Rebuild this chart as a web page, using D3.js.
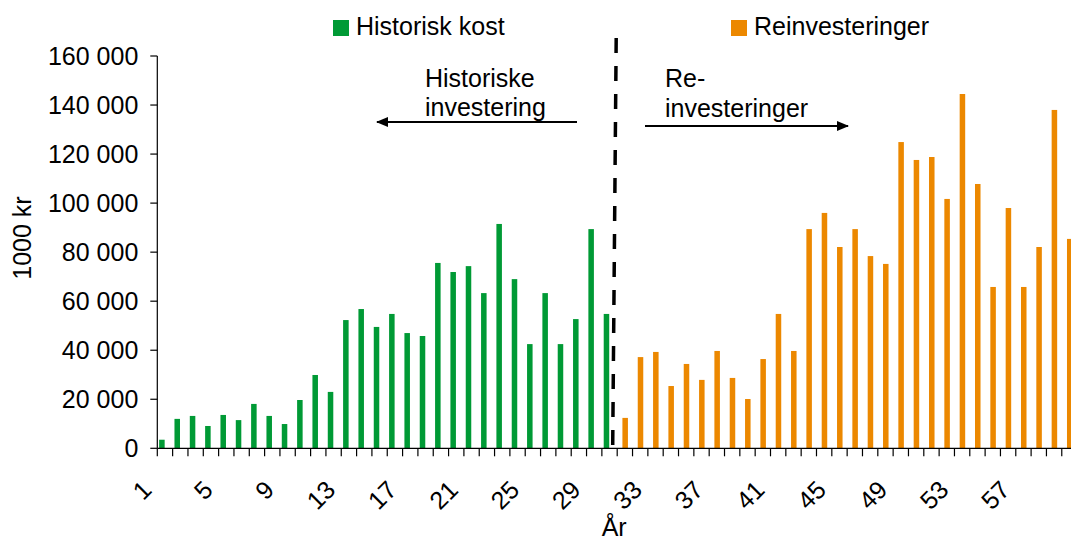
<!DOCTYPE html>
<html>
<head>
<meta charset="utf-8">
<script src="https://cdn.jsdelivr.net/npm/d3@7"></script>
<style>
  html, body { margin: 0; padding: 0; background: #fff; }
  svg text { font-family: "Liberation Sans", Arial, Helvetica, sans-serif; fill: #000; }
</style>
</head>
<body>
<svg id="chart" width="1071" height="542"></svg>
<script>
// ---- Data ----
const years = d3.range(1, 61);
const historiskYears = d3.range(1, 31);
const reinvestYears = d3.range(31, 61);
const historiskKost = [3500, 12000, 13200, 9100, 13600, 11500, 18100, 13200, 9900, 19700,
  29900, 23000, 52300, 56800, 49500, 54800, 47000, 45800, 75600, 71900,
  74300, 63300, 91500, 69000, 42500, 63300, 42500, 52700, 89400, 54800];
const reinvesteringer = [12400, 37200, 39300, 25400, 34400, 27900, 39700, 28700, 20100, 36400,
  54800, 39700, 89400, 96000, 82100, 89400, 78400, 75200, 124900, 117600,
  118800, 101700, 144500, 107800, 65800, 98000, 65800, 82100, 138000, 85400];
const xTickLabels = [1, 5, 9, 13, 17, 21, 25, 29, 33, 37, 41, 45, 49, 53, 57];
const yTicks = [0, 20000, 40000, 60000, 80000, 100000, 120000, 140000, 160000];
const seriesNames = ["Historisk kost", "Reinvesteringer"];
const colors = ["#009a35", "#ec8800"];

// ---- Layout ----
const svg = d3.select("#chart");
const left = 157.3, step = 15.33;
const x = d3.scaleBand().domain(years).range([left, left + step * years.length]).paddingInner(0).paddingOuter(0);
const y = d3.scaleLinear().domain([0, 160000]).range([448.3, 56]);
const bw = step * 0.36;
const fs = 25;

const fmt = d3.formatLocale({ thousands: " ", grouping: [3], decimal: ",", currency: ["", ""] }).format(",d");

// Bars
svg.append("g").selectAll("rect")
  .data(historiskYears.map((c, i) => ({ c, v: historiskKost[i] })))
  .join("rect")
  .attr("x", d => x(d.c) + step * 0.30 - bw / 2)
  .attr("y", d => y(d.v))
  .attr("width", bw)
  .attr("height", d => y(0) - y(d.v))
  .attr("fill", colors[0]);

svg.append("g").selectAll("rect")
  .data(reinvestYears.map((c, i) => ({ c, v: reinvesteringer[i] })))
  .join("rect")
  .attr("x", d => x(d.c) + step * 0.52 - bw / 2)
  .attr("y", d => y(d.v))
  .attr("width", bw)
  .attr("height", d => y(0) - y(d.v))
  .attr("fill", colors[1]);

// Y axis
const yAxisG = svg.append("g");
yAxisG.append("line").attr("x1", left).attr("x2", left).attr("y1", y(160000)).attr("y2", y(0))
  .attr("stroke", "#000").attr("stroke-width", 1.2);
yAxisG.selectAll("line.tick").data(yTicks).join("line").attr("class", "tick")
  .attr("x1", left - 7).attr("x2", left).attr("y1", d => y(d)).attr("y2", d => y(d))
  .attr("stroke", "#000").attr("stroke-width", 1.2);
yAxisG.selectAll("text").data(yTicks).join("text")
  .attr("x", left - 19).attr("y", d => y(d)).attr("dy", "0.35em")
  .attr("text-anchor", "end").attr("font-size", fs).text(d => fmt(d));

// X axis
const xAxisG = svg.append("g");
xAxisG.append("line").attr("x1", left).attr("x2", left + step * years.length).attr("y1", y(0)).attr("y2", y(0))
  .attr("stroke", "#000").attr("stroke-width", 1.2);
xAxisG.selectAll("line.tick").data(years).join("line").attr("class", "tick")
  .attr("x1", d => x(d)).attr("x2", d => x(d)).attr("y1", y(0)).attr("y2", y(0) + 8)
  .attr("stroke", "#000").attr("stroke-width", 1.2);
xAxisG.selectAll("text").data(xTickLabels).join("text")
  .attr("transform", d => `translate(${x(d) + step / 2 - 12},${y(0) + 43}) rotate(-45)`)
  .attr("text-anchor", "end").attr("font-size", fs).text(d => d);

// Axis titles
svg.append("text").attr("x", x(31) - 3).attr("y", 536).attr("text-anchor", "middle")
  .attr("font-size", fs).text("År");
svg.append("text").attr("transform", `translate(31,238) rotate(-90)`).attr("text-anchor", "middle")
  .attr("font-size", fs).text("1000 kr");

// Legend
const legend = svg.append("g");
const legendX = [333, 731];
seriesNames.forEach((name, i) => {
  legend.append("rect").attr("x", legendX[i]).attr("y", 20).attr("width", 16).attr("height", 16).attr("fill", colors[i]);
  legend.append("text").attr("x", legendX[i] + 23).attr("y", 35).attr("font-size", fs).text(name);
});

// Divider
const xb = x(31);
svg.append("line").attr("x1", xb - 1).attr("y1", 38).attr("x2", xb - 4.5).attr("y2", y(0) - 2)
  .attr("stroke", "#000").attr("stroke-width", 3.5).attr("stroke-dasharray", "15,13");

// Annotations
const defs = svg.append("defs");
defs.append("marker").attr("id", "arrow").attr("viewBox", "0 0 12 10").attr("refX", 11).attr("refY", 5)
  .attr("markerWidth", 12).attr("markerHeight", 10).attr("markerUnits", "userSpaceOnUse").attr("orient", "auto")
  .append("path").attr("d", "M0,0 L12,5 L0,10 Z").attr("fill", "#000");

svg.append("text").attr("x", 425).attr("y", 87).attr("font-size", fs).text("Historiske");
svg.append("text").attr("x", 425).attr("y", 116).attr("font-size", fs).text("investering");
svg.append("line").attr("x1", 577).attr("y1", 122).attr("x2", 377).attr("y2", 122)
  .attr("stroke", "#000").attr("stroke-width", 2.2).attr("marker-end", "url(#arrow)");

svg.append("text").attr("x", 665).attr("y", 87).attr("font-size", fs).text("Re-");
svg.append("text").attr("x", 665).attr("y", 117).attr("font-size", fs).text("investeringer");
svg.append("line").attr("x1", 645).attr("y1", 126).attr("x2", 848).attr("y2", 126)
  .attr("stroke", "#000").attr("stroke-width", 2.2).attr("marker-end", "url(#arrow)");
</script>
</body>
</html>
